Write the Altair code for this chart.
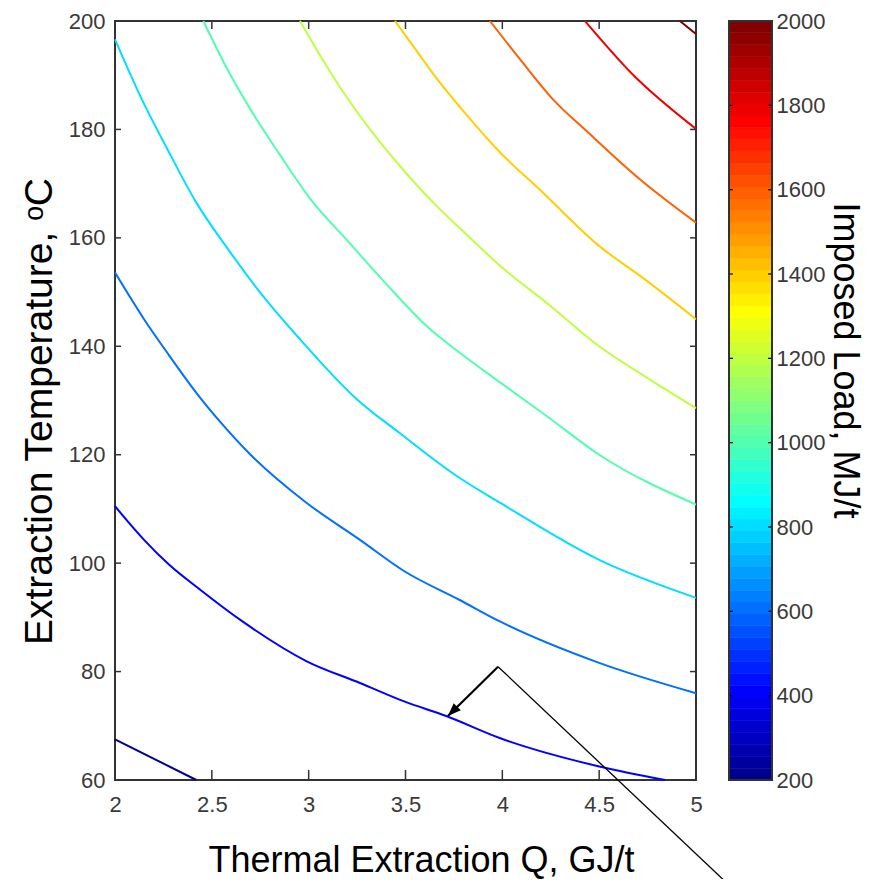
import altair as alt
import pandas as pd

# ---------------- data ----------------
levels = [200, 400, 600, 800, 1000, 1200, 1400, 1600, 1800, 2000]

q_200 = [2.00, 2.42]
t_200 = [67.5, 60.0]
q_400 = [2.00, 2.15, 2.28, 2.44, 2.66, 2.99, 3.265, 3.50, 3.71, 3.99, 4.50, 4.84]
t_400 = [110.5, 104.3, 99.7, 95.1, 89.2, 81.9, 77.9, 74.4, 71.8, 67.7, 62.5, 60.0]
q_600 = [2.00, 2.15, 2.27, 2.44, 2.54, 2.70, 2.99, 3.265, 3.49, 3.78, 3.99, 4.50, 5.00]
t_600 = [153.6, 145.0, 138.8, 130.5, 126.2, 120.0, 111.1, 104.3, 98.6, 93.2, 89.2, 81.6, 76.0]
q_800 = [2.00, 2.13, 2.27, 2.42, 2.59, 2.75, 2.955, 3.25, 3.47, 3.78, 3.99, 4.50, 5.00]
t_800 = [196.6, 186.2, 176.4, 166.5, 157.6, 149.9, 141.3, 130.2, 124.0, 115.7, 111.1, 100.6, 93.6]
q_1000 = [2.456, 2.58, 2.71, 2.85, 3.01, 3.20, 3.40, 3.61, 3.78, 3.99, 4.23, 4.50, 5.00]
t_1000 = [200.0, 191.1, 183.1, 175.4, 167.1, 159.5, 151.5, 143.7, 138.8, 133.3, 127.1, 120.0, 110.8]
q_1200 = [2.955, 3.06, 3.18, 3.33, 3.47, 3.66, 3.78, 3.99, 4.25, 4.50, 4.76, 5.00]
t_1200 = [200.0, 193.6, 186.8, 179.4, 173.3, 165.9, 161.8, 154.8, 147.4, 140.0, 133.9, 128.6]
q_1400 = [3.446, 3.575, 3.64, 3.82, 3.99, 4.19, 4.49, 4.76, 5.00]
t_1400 = [200.0, 193.6, 190.4, 182.5, 175.7, 169.0, 158.8, 151.7, 145.0]
q_1600 = [3.936, 4.09, 4.26, 4.435, 4.71, 5.00]
t_1600 = [200.0, 193.0, 185.6, 179.7, 170.8, 162.8]
q_1800 = [4.427, 4.68, 5.00]
t_1800 = [200.0, 189.9, 180.1]
q_2000 = [4.917, 5.00]
t_2000 = [200.0, 197.6]

x_ticks = [2, 2.5, 3, 3.5, 4, 4.5, 5]
y_ticks = [60, 80, 100, 120, 140, 160, 180, 200]
cb_ticks = [200, 400, 600, 800, 1000, 1200, 1400, 1600, 1800, 2000]

# annotation arrow (data units)
arrow_q = [3.978, 3.719]
arrow_t = [80.9, 71.8]
pointer_q = [3.978, 5.165]
pointer_t = [80.9, 40.8]

# ---------------- jet colormap (MATLAB, 64 colours) ----------------
def jet64(k):
    if k <= 8:
        r, g, b = 0, 0, 0.5 + k / 16
    elif k <= 24:
        r, g, b = 0, (k - 8) / 16, 1
    elif k <= 40:
        r, g, b = (k - 24) / 16, 1, 1 - (k - 24) / 16
    elif k <= 56:
        r, g, b = 1, 1 - (k - 40) / 16, 0
    else:
        r, g, b = 1 - (k - 56) / 16, 0, 0
    return "#%02x%02x%02x" % (round(r * 255), round(g * 255), round(b * 255))

cmin, cmax = 200, 2000

def level_color(v):
    k = min(64, int((v - cmin) / (cmax - cmin) * 64) + 1)
    return jet64(k)

series = {200: (q_200, t_200), 400: (q_400, t_400), 600: (q_600, t_600),
          800: (q_800, t_800), 1000: (q_1000, t_1000), 1200: (q_1200, t_1200),
          1400: (q_1400, t_1400), 1600: (q_1600, t_1600), 1800: (q_1800, t_1800),
          2000: (q_2000, t_2000)}
rows = []
for lev in levels:
    qs, ts = series[lev]
    for i, (q, t) in enumerate(zip(qs, ts)):
        rows.append({"level": lev, "Q": q, "T": t, "idx": i, "hex": level_color(lev)})
contour_df = pd.DataFrame(rows)

band = (cmax - cmin) / 64
cb_df = pd.DataFrame([{"lo": cmin + (k - 1) * band, "hi": cmin + k * band, "hex": jet64(k)}
                      for k in range(1, 65)])

W, H = 581, 759
LABEL_FONT = "Liberation Sans, Arial, sans-serif"
LABEL_SIZE = 22
LABEL_COLOR = "#3a3a3a"
TITLE_FONT = "Liberation Sans, Arial, sans-serif"
FRAME = "#333333"

xs = alt.Scale(domain=[2, 5], nice=False, zero=False)
ys = alt.Scale(domain=[60, 200], nice=False, zero=False)
cbs = alt.Scale(domain=[200, 2000], nice=False, zero=False)

x_axis = alt.Axis(values=x_ticks, format="~g", ticks=False, domain=False, grid=False,
                  labelFlush=False, labelOverlap=False,
                  labelFont=LABEL_FONT, labelFontSize=LABEL_SIZE, labelColor=LABEL_COLOR,
                  labelPadding=14, title="Thermal Extraction Q, GJ/t",
                  titleFont=TITLE_FONT, titleFontSize=36, titleFontWeight="normal",
                  titleColor="black", titlePadding=28, titleX=306)
y_axis = alt.Axis(values=y_ticks, ticks=False, domain=False, grid=False,
                  labelFlush=False, labelOverlap=False,
                  labelFont=LABEL_FONT, labelFontSize=LABEL_SIZE, labelColor=LABEL_COLOR,
                  labelPadding=10, title="Extraction Temperature, ᵒC",
                  titleFont=TITLE_FONT, titleFontSize=39, titleFontWeight="normal",
                  titleColor="black", titlePadding=9, titleY=390)

X = alt.X("Q:Q", scale=xs, axis=x_axis)
Y = alt.Y("T:Q", scale=ys, axis=y_axis)

lines = alt.Chart(contour_df).mark_line(strokeWidth=2, interpolate="monotone").encode(
    x=X, y=Y,
    color=alt.Color("hex:N", scale=None),
    detail="level:N",
    order="idx:Q",
)

xt = pd.DataFrame({"Q": x_ticks})
yt = pd.DataFrame({"T": y_ticks})
tick_bottom = alt.Chart(xt).mark_rule(color=FRAME, strokeWidth=1.5).encode(
    x=X, y=alt.value(H), y2=alt.value(H - 10))
tick_top = alt.Chart(xt).mark_rule(color=FRAME, strokeWidth=1.5).encode(
    x=X, y=alt.value(0), y2=alt.value(8))
tick_left = alt.Chart(yt).mark_rule(color=FRAME, strokeWidth=1.5).encode(
    y=Y, x=alt.value(0), x2=alt.value(6))
tick_right = alt.Chart(yt).mark_rule(color=FRAME, strokeWidth=1.5).encode(
    y=Y, x=alt.value(W), x2=alt.value(W - 6))

arrow_df = pd.DataFrame({"Q": arrow_q, "T": arrow_t, "i": [0, 1]})
pointer_df = pd.DataFrame({"Q": pointer_q, "T": pointer_t, "i": [0, 1]})
shaft = alt.Chart(arrow_df).mark_line(color="black", strokeWidth=2.2).encode(
    x=X, y=Y, order="i:Q")
head = alt.Chart(arrow_df.iloc[[1]]).mark_point(
    shape="M0,0L-0.42,1.1L0.42,1.1Z", size=576, filled=True, color="black",
    opacity=1, angle=225).encode(x=X, y=Y)
pointer = alt.Chart(pointer_df).mark_line(color="black", strokeWidth=1.3).encode(
    x=X, y=Y, order="i:Q")

main = alt.layer(lines, tick_bottom, tick_top, tick_left, tick_right, pointer, shaft, head)

# ---------------- colour bar ----------------
CB_X0, CB_X1 = 614, 657
cb_axis = alt.Axis(orient="right", offset=CB_X1 - W, values=cb_ticks, format="d",
                   ticks=False, domain=False, grid=False,
                   labelFlush=False, labelOverlap=False,
                   labelFont=LABEL_FONT, labelFontSize=LABEL_SIZE, labelColor=LABEL_COLOR,
                   labelPadding=4, title="Imposed Load, MJ/t", titleAngle=90,
                   titleFont=TITLE_FONT, titleFontSize=36, titleFontWeight="normal",
                   titleColor="black", titlePadding=1, titleY=339)
CBY = alt.Y("lo:Q", scale=cbs, axis=cb_axis)
bands = alt.Chart(cb_df).mark_rect(strokeWidth=0.6).encode(
    y=CBY, y2="hi:Q",
    x=alt.value(CB_X0), x2=alt.value(CB_X1),
    color=alt.Color("hex:N", scale=None),
    stroke=alt.Stroke("hex:N", scale=None),
)
cbt = pd.DataFrame({"lo": cb_ticks})
cb_tick_l = alt.Chart(cbt).mark_rule(color="black", strokeWidth=1.2).encode(
    y=CBY, x=alt.value(CB_X0), x2=alt.value(CB_X0 + 4))
cb_tick_r = alt.Chart(cbt).mark_rule(color="black", strokeWidth=1.2).encode(
    y=CBY, x=alt.value(CB_X1), x2=alt.value(CB_X1 - 4))
cb_frame = alt.Chart(cbt).mark_rect(fill=None, stroke=FRAME, strokeWidth=1.5).encode(
    x=alt.value(CB_X0), x2=alt.value(CB_X1), y=alt.value(0), y2=alt.value(H))
colorbar = alt.layer(bands, cb_tick_l, cb_tick_r, cb_frame)

chart = alt.layer(main, colorbar).resolve_scale(y="independent").properties(
    width=W, height=H,
    background="white",
    autosize=alt.AutoSizeParams(type="none"),
    padding={"left": 107, "top": 13, "right": 180, "bottom": 99},
).configure_view(stroke=FRAME, strokeWidth=2)

chart.save("out.html", embed_options={"renderer": "svg", "actions": False})
